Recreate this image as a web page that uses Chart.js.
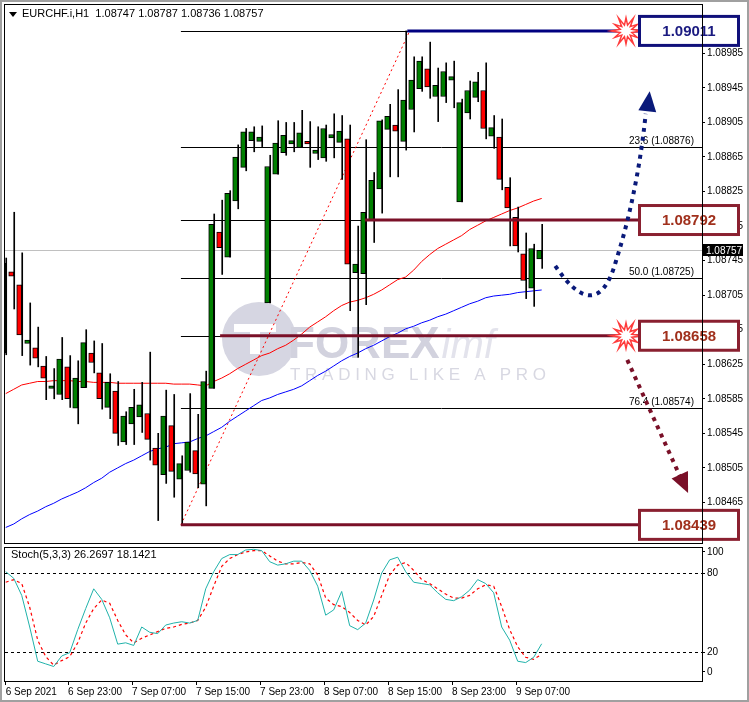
<!DOCTYPE html>
<html><head><meta charset="utf-8">
<script src="https://cdn.jsdelivr.net/npm/chart.js@4.4.1/dist/chart.umd.min.js"></script>
<style>
html,body{margin:0;padding:0;background:#fff;width:749px;height:702px;overflow:hidden}
#wrap{position:relative;width:749px;height:702px;box-sizing:border-box;border:2px solid #a0a0a0;}
#c1{position:absolute;left:0;top:0}
#c2{position:absolute;left:0;top:545px}
</style></head><body>
<div id="wrap">
<canvas id="c1" width="745" height="545"></canvas>
<canvas id="c2" width="745" height="155"></canvas>
</div>
<script>
const openP=[1.08638,1.08732,1.08717,1.08649,1.08644,1.08623,1.08597,1.08590,1.08622,1.08574,1.08598,1.08638,1.08615,1.08575,1.08594,1.08535,1.08556,1.08564,1.08568,1.08528,1.08497,1.08554,1.08492,1.08502,1.08525,1.08486,1.08597,1.08778,1.08749,1.08814,1.08853,1.08884,1.08883,1.08696,1.08845,1.08870,1.08880,1.08876,1.08883,1.08869,1.08864,1.08887,1.08882,1.08886,1.08731,1.08730,1.08792,1.08828,1.08897,1.08902,1.08883,1.08920,1.08944,1.08967,1.08935,1.08935,1.08954,1.08813,1.08916,1.08934,1.08942,1.08889,1.08888,1.08830,1.08795,1.08753,1.08713,1.08747];
const highP=[1.08748,1.08801,1.08754,1.08696,1.08668,1.08634,1.08620,1.08656,1.08635,1.08629,1.08665,1.08652,1.08649,1.08614,1.08605,1.08570,1.08596,1.08604,1.08639,1.08545,1.08595,1.08590,1.08519,1.08591,1.08567,1.08617,1.08799,1.08815,1.08826,1.08879,1.08898,1.08900,1.08901,1.08867,1.08907,1.08905,1.08905,1.08919,1.08906,1.08900,1.08902,1.08915,1.08913,1.08902,1.08785,1.08885,1.08847,1.08908,1.08926,1.08943,1.09011,1.08981,1.08981,1.08998,1.08968,1.08974,1.08976,1.08932,1.08953,1.08963,1.08974,1.08913,1.08909,1.08841,1.08807,1.08777,1.08764,1.08787];
const lowP=[1.08636,1.08689,1.08635,1.08624,1.08622,1.08584,1.08585,1.08584,1.08575,1.08556,1.08598,1.08615,1.08573,1.08562,1.08531,1.08532,1.08532,1.08546,1.08514,1.08444,1.08487,1.08471,1.08440,1.08500,1.08482,1.08461,1.08597,1.08729,1.08749,1.08805,1.08849,1.08871,1.08877,1.08696,1.08845,1.08867,1.08871,1.08876,1.08853,1.08862,1.08860,1.08864,1.08839,1.08687,1.08633,1.08694,1.08766,1.08800,1.08842,1.08842,1.08873,1.08894,1.08941,1.08933,1.08906,1.08928,1.08922,1.08813,1.08909,1.08929,1.08886,1.08875,1.08827,1.08762,1.08755,1.08701,1.08692,1.08736];
const closeP=[1.08742,1.08727,1.08659,1.08653,1.08632,1.08609,1.08600,1.08631,1.08585,1.08609,1.08650,1.08627,1.08585,1.08604,1.08545,1.08565,1.08575,1.08578,1.08538,1.08508,1.08565,1.08501,1.08510,1.08535,1.08498,1.08605,1.08787,1.08760,1.08823,1.08865,1.08894,1.08894,1.08888,1.08854,1.08881,1.08890,1.08884,1.08893,1.08880,1.08873,1.08898,1.08891,1.08895,1.08741,1.08741,1.08801,1.08838,1.08907,1.08912,1.08895,1.08931,1.08954,1.08976,1.08946,1.08948,1.08964,1.08958,1.08928,1.08942,1.08952,1.08898,1.08899,1.08839,1.08806,1.08762,1.08722,1.08759,1.08757];
const maRed=[1.08591,1.08596,1.08601,1.08603,1.08605,1.08605,1.08606,1.08606,1.08606,1.08605,1.08605,1.08604,1.08604,1.08604,1.08603,1.08603,1.08603,1.08603,1.08603,1.08603,1.08603,1.08602,1.08602,1.08602,1.08601,1.08600,1.08605,1.08609,1.08614,1.08620,1.08625,1.08630,1.08635,1.08638,1.08643,1.08647,1.08653,1.08660,1.08668,1.08674,1.08680,1.08687,1.08693,1.08697,1.08699,1.08702,1.08706,1.08711,1.08717,1.08723,1.08726,1.08734,1.08744,1.08752,1.08759,1.08764,1.08769,1.08774,1.08781,1.08786,1.08791,1.08795,1.08799,1.08803,1.08806,1.08810,1.08814,1.08817];
const maBlue=[1.08436,1.08440,1.08446,1.08451,1.08455,1.08460,1.08464,1.08469,1.08473,1.08477,1.08482,1.08488,1.08493,1.08500,1.08505,1.08510,1.08514,1.08519,1.08524,1.08527,1.08529,1.08533,1.08534,1.08535,1.08539,1.08542,1.08547,1.08552,1.08559,1.08565,1.08571,1.08577,1.08583,1.08586,1.08590,1.08593,1.08596,1.08600,1.08606,1.08612,1.08617,1.08623,1.08629,1.08634,1.08638,1.08643,1.08647,1.08652,1.08657,1.08661,1.08666,1.08669,1.08673,1.08676,1.08680,1.08683,1.08687,1.08691,1.08695,1.08698,1.08702,1.08704,1.08705,1.08706,1.08708,1.08709,1.08710,1.08711];
const stochK=[81,76,63,39,13,11,9,17,19.5,37,53,68,60,46,26,27,25,39,35,34,40.5,42,43,42,44,68,81,91,94,94,97.5,98,97,88.6,86,87,89,89,82,70,48,52,66,40,37,42,59.5,80,90,92,81,73,72,71,65,60,59,62,67,75,72,65,39,29,13,12,16,26.27];
const stochD=[73,75,72,54,29,16.5,10,13.5,16.5,27,42,53,59.5,57,44,33,27,30.5,33,35.5,38,39,41,42,44,54,70,85,91,94,96,97,97,93,89,87,87,88,87,78.5,61,56,54.5,50,44,40.5,47,63,78.5,86,88,82,75,72,68,64,61,61,63,68,71,70,54.5,37,24,16,14.5,18.14];
const priceTicks=[1.08465,1.08505,1.08545,1.08585,1.08625,1.08665,1.08705,1.08745,1.08785,1.08825,1.08865,1.08905,1.08945,1.08985];
const stochTickPos=[4.9,20,80,96];
const stochTickLabels=["0","20","80","100"];
const stochLevels=[20,80];
const timeTickPos=[0,7.8,15.8,23.8,31.8,39.8,47.8,55.8,63.8];
const timeLabels=["6 Sep 2021","6 Sep 23:00","7 Sep 07:00","7 Sep 15:00","7 Sep 23:00","8 Sep 07:00","8 Sep 15:00","8 Sep 23:00","9 Sep 07:00"];
const fibLevels=[1.09011,1.08876,1.08792,1.08725,1.08658,1.08574,1.08439];
const fibTexts=["","23.6 (1.08876)","","50.0 (1.08725)","","76.4 (1.08574)",""];
const lastPrice=1.08757;
const title="EURCHF.i,H1  1.08747 1.08787 1.08736 1.08757";
const stochTitle="Stoch(5,3,3) 26.2697 18.1421";

const FONT="'Liberation Sans', Arial, sans-serif";
const idx=openP.map((_,i)=>i);
const XMIN=-0.09, XMAX=87.04;
const GREEN='#008000', RED='#ff0000';
const up=idx.map(i=>closeP[i]>=openP[i]);
const bodies=idx.map(i=>({x:i,y:[openP[i],closeP[i]]}));
const wicks=idx.map(i=>({x:i,y:[lowP[i],highP[i]]}));

function axisFitW(s){s.width=45;s.paddingTop=0;s.paddingBottom=0;}
const overlay={
 id:'overlay',
 beforeDatasetsDraw(c){
  const ctx=c.ctx,X=c.scales.x,Y=c.scales.y,a=c.chartArea;
  ctx.save();
  ctx.beginPath();ctx.rect(a.left,a.top,a.right-a.left,a.bottom-a.top);ctx.clip();
  ctx.fillStyle='#d6d6e2';
  ctx.beginPath();ctx.arc(257,337,37,0,Math.PI*2);ctx.fill();
  ctx.fillStyle='#fff';ctx.fillRect(232,322,42,8);ctx.fillRect(248,322,10,30);
  ctx.font="bold 44px "+FONT;ctx.fillStyle='#d2d2de';ctx.textBaseline='alphabetic';
  ctx.fillText('FOREX',286,356);
  const w=ctx.measureText('FOREX').width;
  ctx.fillStyle='#e3e3ec';ctx.font="italic 40px "+FONT;ctx.fillText('imf',286+w+2,356);
  ctx.font="17px "+FONT;ctx.fillStyle='#d8d8e2';
  ctx.fillText('T R A D I N G   L I K E   A   P R O',288,378);
  ctx.strokeStyle='#c0c0c0';ctx.lineWidth=1;
  const yl=Math.round(Y.getPixelForValue(lastPrice))+0.5;
  ctx.beginPath();ctx.moveTo(a.left,yl);ctx.lineTo(a.right,yl);ctx.stroke();
  ctx.strokeStyle='#000';
  const fx=X.getPixelForValue(21.9);
  fibLevels.forEach((p,k)=>{const y=Math.round(Y.getPixelForValue(p))+0.5;
   ctx.beginPath();ctx.moveTo(fx,y);ctx.lineTo(a.right,y);ctx.stroke();
   if(fibTexts[k]){ctx.font="10px "+FONT;ctx.fillStyle='#000';ctx.textAlign='right';ctx.textBaseline='bottom';ctx.fillText(fibTexts[k],a.right-8,y-1);}
  });
  ctx.strokeStyle=RED;ctx.setLineDash([2,3]);
  ctx.beginPath();ctx.moveTo(fx,Y.getPixelForValue(fibLevels[6]));ctx.lineTo(X.getPixelForValue(50.5),Y.getPixelForValue(fibLevels[0]));ctx.stroke();
  ctx.setLineDash([]);
  ctx.restore();
 },
 afterDatasetsDraw(c){
  const ctx=c.ctx,X=c.scales.x,Y=c.scales.y,a=c.chartArea;
  const px=v=>X.getPixelForValue(v),py=v=>Y.getPixelForValue(v);
  ctx.save();
  const bl=a.right-64,br=a.right+38;
  const thick=[[1.09011,50.2,'#000080'],[1.08792,44.9,'#7a1028'],[1.08658,26.8,'#7a1028'],[1.08439,21.9,'#7a1028']];
  thick.forEach(t=>{ctx.strokeStyle=t[2];ctx.lineWidth=3;const y=py(t[0]);ctx.beginPath();ctx.moveTo(px(t[1]),y);ctx.lineTo(bl,y);ctx.stroke();});
  ctx.lineWidth=4;ctx.setLineDash([4,5]);
  ctx.strokeStyle='#0a1a7a';
  ctx.beginPath();ctx.moveTo(px(68.7),py(1.08739));
  ctx.bezierCurveTo(px(71.5),py(1.08700),px(74.5),py(1.08685),px(76.3),py(1.08745));
  ctx.bezierCurveTo(px(78.2),py(1.08800),px(79.4),py(1.08860),px(80.0),py(1.08915));
  ctx.stroke();
  ctx.strokeStyle='#7a1028';
  const m0=[px(77.7),py(1.08630)],m1=[px(84.4),py(1.08493)];
  ctx.beginPath();ctx.moveTo(m0[0],m0[1]);ctx.lineTo(m1[0],m1[1]);ctx.stroke();
  ctx.setLineDash([]);
  function head(tx,ty,dx,dy,col){const L=Math.hypot(dx,dy);dx/=L;dy/=L;const bx=tx-dx*20,by=ty-dy*20;
   ctx.fillStyle=col;ctx.beginPath();ctx.moveTo(tx,ty);ctx.lineTo(bx-dy*9,by+dx*9);ctx.lineTo(bx+dy*9,by-dx*9);ctx.closePath();ctx.fill();}
  head(px(80.5),py(1.08941),0.12,-1,'#0a1a7a');
  head(px(85.3),py(1.08476),0.42,0.92,'#7a1028');
  function star(cx,cy){ctx.beginPath();for(let k=0;k<24;k++){const r=k%2?6:13+(k%4==0?2:0);const an=k*Math.PI/12;const x=cx+r*Math.cos(an),y=cy+r*Math.sin(an);k?ctx.lineTo(x,y):ctx.moveTo(x,y);}ctx.closePath();ctx.fillStyle='#fff';ctx.fill();ctx.strokeStyle='#ff3b3b';ctx.lineWidth=1.5;ctx.stroke();}
  star(bl-12,py(1.09011));star(bl-12,py(1.08658));
  const boxes=[[1.09011,'#10107a','#1a1a80'],[1.08792,'#8a2030','#a0301c'],[1.08658,'#8a2030','#a0301c'],[1.08439,'#8a2030','#a0301c']];
  boxes.forEach(b=>{const y=py(b[0]);ctx.fillStyle='#fff';ctx.fillRect(bl,y-16,br-bl,32);
   ctx.strokeStyle=b[1];ctx.lineWidth=3;ctx.strokeRect(bl+1.5,y-14.5,br-bl-3,29);
   ctx.fillStyle=b[2];ctx.font="bold 15px "+FONT;ctx.textAlign='center';ctx.textBaseline='middle';ctx.fillText(b[0].toFixed(5),(bl+br)/2,y+1);});
  const yl=Math.round(py(lastPrice));
  ctx.fillStyle='#000';ctx.fillRect(a.right+1,yl-6,40,12);
  ctx.fillStyle='#fff';ctx.font="10px "+FONT;ctx.textAlign='left';ctx.textBaseline='middle';ctx.fillText(lastPrice.toFixed(5),a.right+4,yl+1);
  ctx.fillStyle='#000';ctx.font="11px "+FONT;ctx.textAlign='left';ctx.textBaseline='middle';
  ctx.beginPath();ctx.moveTo(7,10);ctx.lineTo(15,10);ctx.lineTo(11,15);ctx.closePath();ctx.fill();
  ctx.fillText(title,20,12);
  ctx.strokeStyle='#000';ctx.lineWidth=1;ctx.strokeRect(a.left-0.5,a.top-0.5,a.right-a.left+1,a.bottom-a.top+1);
  ctx.restore();
 }
};
new Chart(document.getElementById('c1'),{
 type:'bar',
 data:{datasets:[
  {type:'bar',data:bodies,backgroundColor:up.map(u=>u?GREEN:RED),borderColor:'#000',borderWidth:1,borderSkipped:false,barThickness:5,order:0,minBarLength:2},
  {type:'bar',data:wicks,backgroundColor:'#000',barThickness:1,order:1},
  {type:'line',data:idx.map(i=>({x:i,y:maRed[i]})),borderColor:'#ff0000',borderWidth:1,pointRadius:0,order:2},
  {type:'line',data:idx.map(i=>({x:i,y:maBlue[i]})),borderColor:'#0000ff',borderWidth:1,pointRadius:0,order:2}
 ]},
 options:{responsive:false,animation:false,devicePixelRatio:1,
  layout:{padding:{left:3,top:3,bottom:4,right:0}},
  plugins:{legend:{display:false},tooltip:{enabled:false}},
  scales:{
   x:{type:'linear',min:XMIN,max:XMAX,display:false,offset:false},
   y:{position:'right',min:1.08418,max:1.09041,afterFit:axisFitW,
    afterBuildTicks(s){s.ticks=priceTicks.map(v=>({value:v}));},
    ticks:{callback:v=>v.toFixed(5),color:'#000',font:{family:FONT,size:10},padding:2},
    grid:{drawOnChartArea:false,drawTicks:true,tickLength:3,color:'#000'},border:{color:'#000'}}
  }},
 plugins:[overlay]
});

const stochOverlay={
 id:'so',
 beforeDatasetsDraw(c){const ctx=c.ctx,Y=c.scales.y,a=c.chartArea;ctx.save();ctx.strokeStyle='#000';ctx.setLineDash([3,3]);ctx.lineWidth=1;
  stochLevels.forEach(l=>{const y=Math.round(Y.getPixelForValue(l))+0.5;ctx.beginPath();ctx.moveTo(a.left,y);ctx.lineTo(a.right,y);ctx.stroke();});ctx.restore();},
 afterDatasetsDraw(c){const ctx=c.ctx,a=c.chartArea;ctx.save();ctx.fillStyle='#000';ctx.font="11px "+FONT;ctx.textBaseline='middle';ctx.fillText(stochTitle,9,8);
  ctx.strokeStyle='#000';ctx.strokeRect(a.left-0.5,a.top-0.5,a.right-a.left+1,a.bottom-a.top+1);ctx.restore();}
};
new Chart(document.getElementById('c2'),{
 type:'line',
 data:{datasets:[
  {data:idx.map(i=>({x:i,y:stochK[i]})),borderColor:'#20b2aa',borderWidth:1,pointRadius:0},
  {data:idx.map(i=>({x:i,y:stochD[i]})),borderColor:'#ff0000',borderWidth:1.2,borderDash:[3,3],pointRadius:0}
 ]},
 options:{responsive:false,animation:false,devicePixelRatio:1,
  layout:{padding:{left:3,top:1,bottom:2,right:0}},
  plugins:{legend:{display:false},tooltip:{enabled:false}},
  scales:{
   x:{type:'linear',min:XMIN,max:XMAX,afterFit(s){s.height=19;s.paddingLeft=0;s.paddingRight=0;},
    afterBuildTicks(s){s.ticks=timeTickPos.map(v=>({value:v}));},
    ticks:{callback:(v,k)=>timeLabels[k],align:'start',maxRotation:0,autoSkip:false,color:'#000',font:{family:FONT,size:10},padding:1},
    grid:{drawOnChartArea:false,drawTicks:true,tickLength:4,color:'#000'},border:{color:'#000'}},
   y:{position:'right',min:-2,max:99,afterFit:axisFitW,
    afterBuildTicks(s){s.ticks=stochTickPos.map(v=>({value:v}));},
    ticks:{callback:(v,k)=>stochTickLabels[k],color:'#000',font:{family:FONT,size:10},padding:2},
    grid:{drawOnChartArea:false,drawTicks:true,tickLength:3,color:'#000'},border:{color:'#000'}}
  }},
 plugins:[stochOverlay]
});
</script>
</body></html>
